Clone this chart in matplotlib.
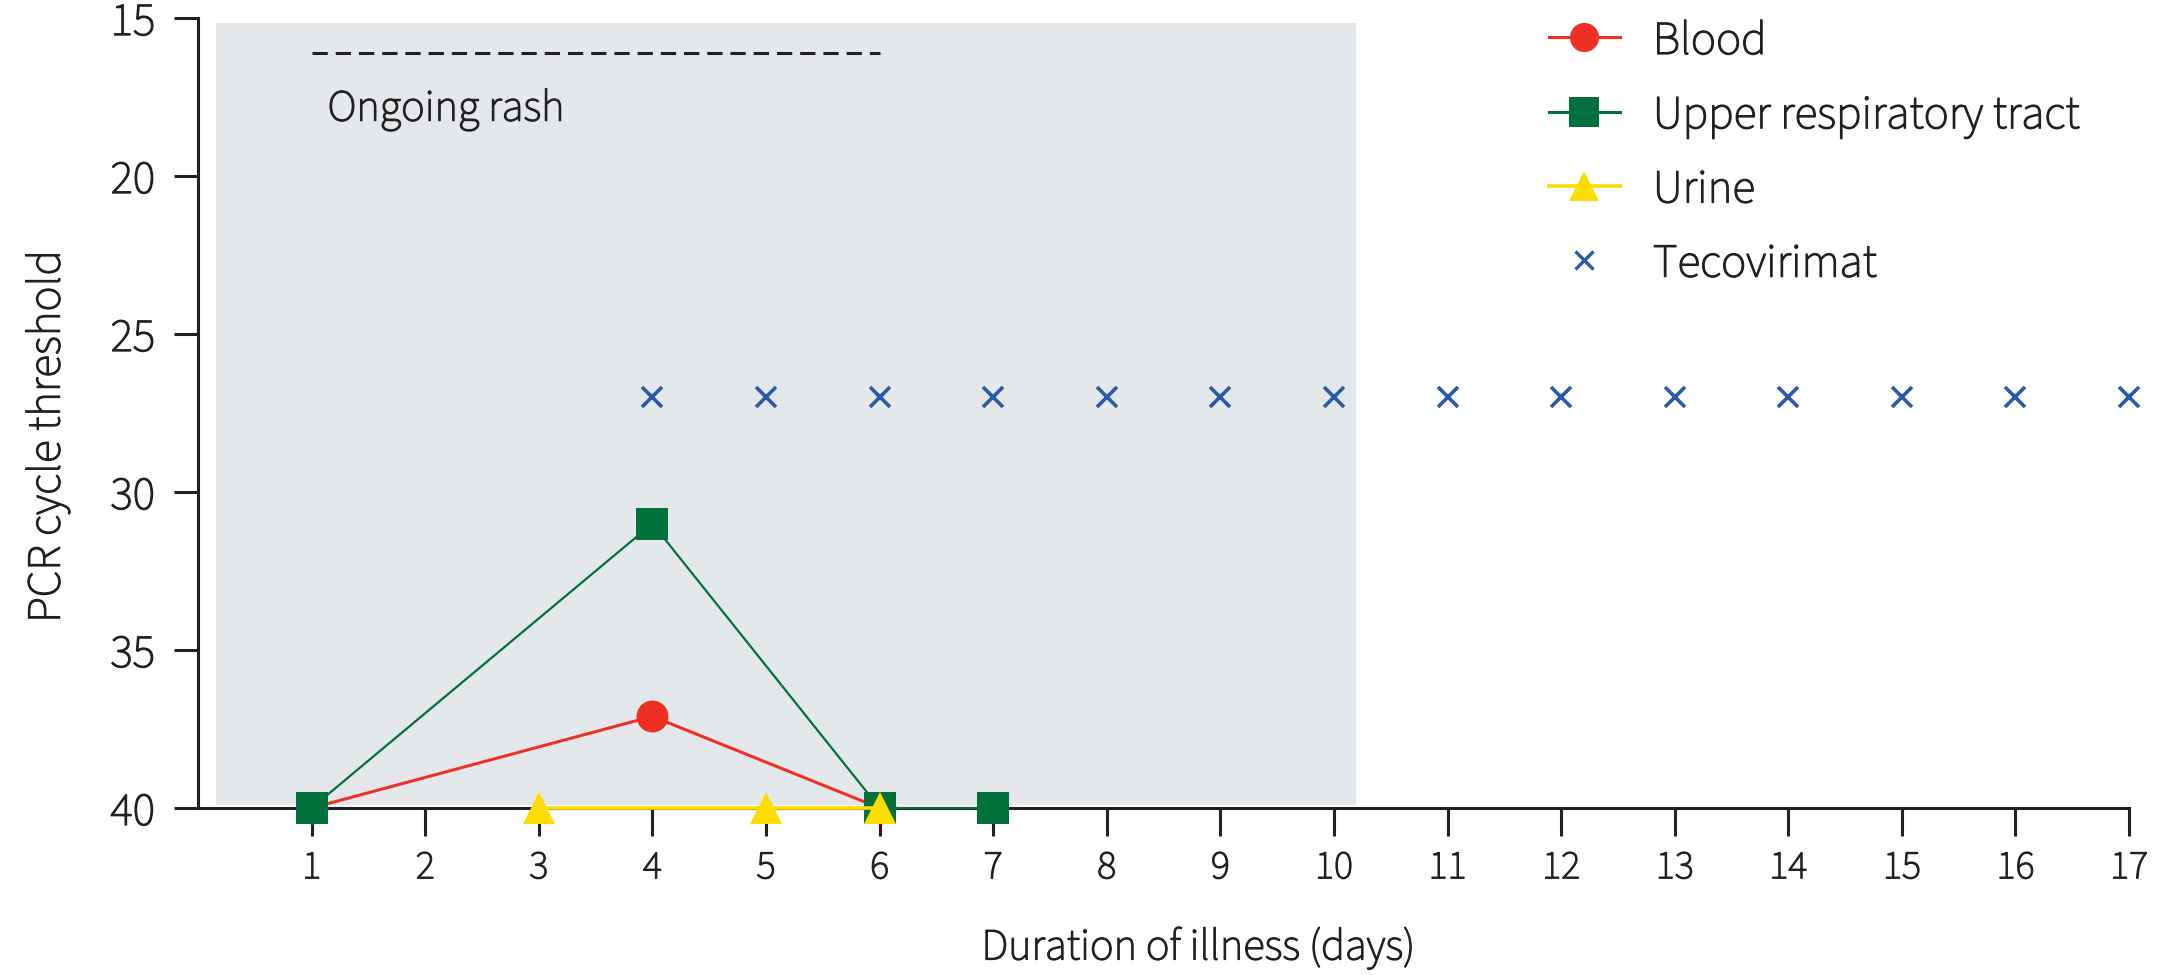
import matplotlib
matplotlib.use("Agg")
import matplotlib.pyplot as plt
import matplotlib.patheffects as pe
from matplotlib.lines import Line2D
from matplotlib.patches import Rectangle

plt.rcParams['font.family'] = ['Source Sans 3', 'DejaVu Sans']

# ---- data ----
blood_days = [1, 4, 6]
blood_ct = [40, 37.1, 40]
urt_days = [1, 4, 6, 7]
urt_ct = [40, 31, 40, 40]
urine_days = [3, 5, 6]
urine_ct = [40, 40, 40]
teco_days = [4, 5, 6, 7, 8, 9, 10, 11, 12, 13, 14, 15, 16, 17]
teco_ct = [27] * len(teco_days)

x_ticks = list(range(1, 18))
y_ticks = [15, 20, 25, 30, 35, 40]

rash_start, rash_end = 1, 6          # dashed "Ongoing rash" bar (days)
rash_level = 16.1
shade_x = (0.16, 10.19)              # grey shaded period
shade_y = (15.15, 39.9)

legend_labels = ["Blood", "Upper respiratory tract", "Urine", "Tecovirimat"]

# ---- style ----
TXT = '#231f20'
RED = '#ee3124'
GREEN = '#00703c'
YELLOW = '#ffdd00'
BLUE = '#2a5ba8'
GREY = '#e4e8eb'
BOLDEN = [pe.withStroke(linewidth=0.9, foreground=TXT)]

fig = plt.figure(figsize=(21.67, 9.75), dpi=100)
ax = fig.add_axes([0.0914, 0.1713, 0.8911, 0.8102])
ax.set_xlim(0, 17)
ax.set_ylim(40, 15)

ax.add_patch(Rectangle((shade_x[0], shade_y[0]), shade_x[1] - shade_x[0],
                       shade_y[1] - shade_y[0], facecolor=GREY, edgecolor='none', zorder=0))

ax.plot([rash_start, rash_end], [rash_level, rash_level], color=TXT, lw=2.2,
        dashes=(5, 2.6), zorder=2)
rash_txt = ax.text(1.14, 17.9, "Ongoing rash", fontsize=32, color=TXT, va='center', ha='left')

ax.plot(blood_days, blood_ct, color=RED, lw=2.2, marker='o', ms=23, mew=0, zorder=3, clip_on=False)
ax.plot(urt_days, urt_ct, color=GREEN, lw=1.6, marker='s', ms=23, mew=0, zorder=4, clip_on=False)
ax.plot(urine_days, urine_ct, color=YELLOW, lw=2.6, marker='^', ms=23, mew=0, zorder=5, clip_on=False)
ax.plot(teco_days, teco_ct, color=BLUE, ls='none', marker='x', ms=15, mew=2.6, zorder=5, clip_on=False)

for s in ['top', 'right']:
    ax.spines[s].set_visible(False)
for s in ['left', 'bottom']:
    ax.spines[s].set_linewidth(2.2)
    ax.spines[s].set_color(TXT)

ax.set_xticks(x_ticks)
ax.set_yticks(y_ticks)
ax.tick_params(axis='x', length=20, width=2.2, color=TXT, labelsize=29, labelcolor=TXT, pad=9)
ax.tick_params(axis='y', length=17, width=2.2, color=TXT, labelsize=34, labelcolor=TXT, pad=14)

xl = ax.set_xlabel("Duration of illness (days)", fontsize=32, color=TXT)
ax.xaxis.set_label_coords(0.518, -0.150)
yl = ax.set_ylabel("PCR cycle threshold", fontsize=34, color=TXT)
ax.yaxis.set_label_coords(-0.0665, 0.47)

handles = [
    Line2D([], [], color=RED, lw=2.2, marker='o', ms=21, mew=0),
    Line2D([], [], color=GREEN, lw=2.2, marker='s', ms=21, mew=0),
    Line2D([], [], color=YELLOW, lw=2.6, marker='^', ms=21, mew=0),
    Line2D([], [], color=BLUE, ls='none', marker='x', ms=13, mew=2.4),
]
leg = ax.legend(handles, legend_labels, loc='upper left', bbox_to_anchor=(1549 / 2167, 1 - 20 / 975),
                bbox_transform=fig.transFigure, frameon=False, borderpad=0, borderaxespad=0,
                handlelength=1.5, handletextpad=0.7, labelspacing=0.64, fontsize=34)

for t in list(leg.get_texts()) + ax.get_xticklabels() + ax.get_yticklabels() + [xl, yl, rash_txt]:
    t.set_color(TXT)
    t.set_path_effects(BOLDEN)

fig.savefig("out.png", dpi=100)
